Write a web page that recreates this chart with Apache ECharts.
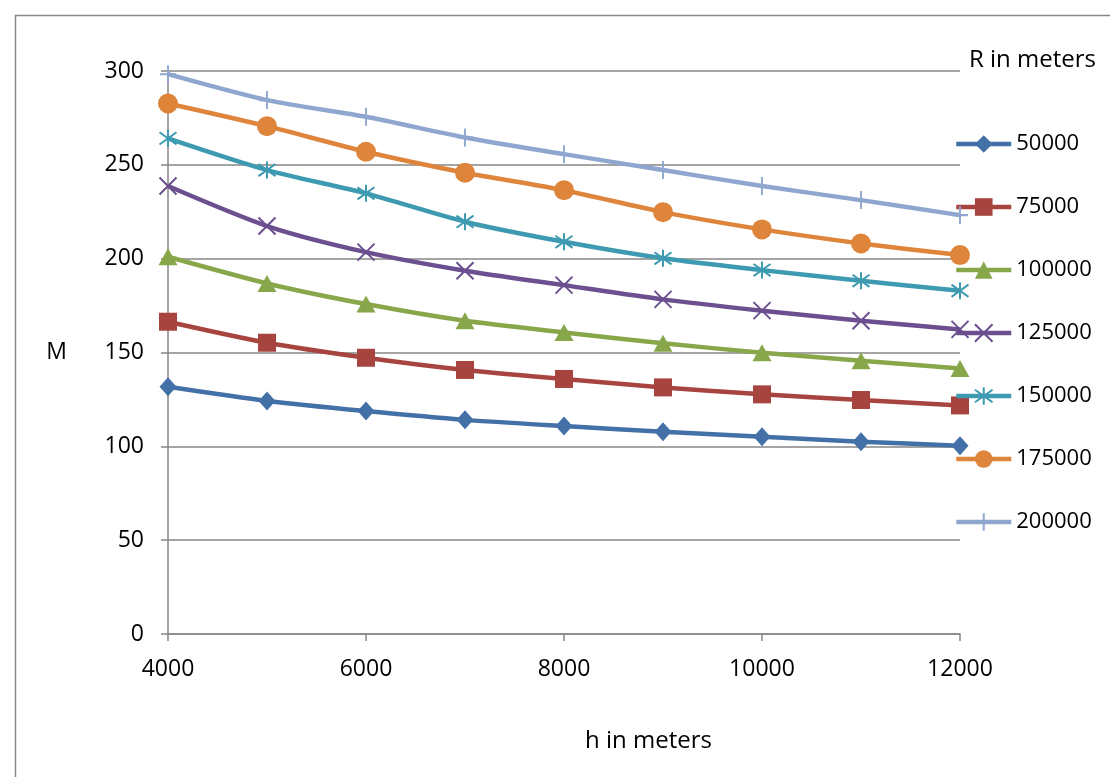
<!DOCTYPE html>
<html>
<head>
<meta charset="utf-8">
<script src="https://cdn.jsdelivr.net/npm/echarts@6/dist/echarts.min.js"></script>
<style>
html,body{margin:0;padding:0;background:#fff;}
#main{width:1110px;height:777px;}
</style>
</head>
<body>
<div id="main"></div>
<script>
// Data
const hValues = [4000, 5000, 6000, 7000, 8000, 9000, 10000, 11000, 12000];
const seriesNames = ['50000', '75000', '100000', '125000', '150000', '175000', '200000'];
const r50000  = [131.7, 124.2, 118.8, 114.1, 110.8, 107.8, 105.1, 102.5, 100.3];
const r75000  = [166.4, 155.2, 147.2, 140.7, 135.9, 131.4, 127.7, 124.7, 121.8];
const r100000 = [201.0, 186.8, 175.8, 166.9, 160.7, 154.9, 149.9, 145.6, 141.5];
const r125000 = [238.7, 217.4, 203.5, 193.6, 185.9, 178.3, 172.3, 166.9, 162.3];
const r150000 = [264.1, 247.2, 234.8, 219.7, 209.0, 200.2, 193.9, 188.2, 182.9];
const r175000 = [282.7, 270.6, 257.0, 245.8, 236.5, 224.8, 215.6, 208.1, 201.9];
const r200000 = [298.3, 284.5, 275.6, 264.6, 255.7, 247.2, 238.7, 231.2, 223.2];
const xTicks = [4000, 6000, 8000, 10000, 12000];
const yTicks = [0, 50, 100, 150, 200, 250, 300];

const allData = [r50000, r75000, r100000, r125000, r150000, r175000, r200000];
const colors = ['#4470A8', '#A8443F', '#88A64A', '#6B4F8F', '#3E9AB1', '#DE843B', '#8FA7CF'];
const symbols = [
  'diamond',
  'rect',
  'triangle',
  'path://M0,0L10,10M10,0L0,10',
  'path://M0,0L10,10M10,0L0,10M5,-2L5,12',
  'circle',
  'path://M5,0L5,10M0,5L10,5'
];
const sizes = [[17,19], 18, [19,17], 17, 17, 20, [16,18]];
const stroked = [false, false, false, true, true, false, true];

const FONT = 'Open Sans';

const series = seriesNames.map((name, i) => ({
  name: name,
  type: 'line',
  data: hValues.map((h, j) => [h, allData[i][j]]),
  smooth: 0.25,
  symbol: symbols[i],
  symbolSize: sizes[i],
  showAllSymbol: true,
  lineStyle: { color: colors[i], width: 4.5 },
  itemStyle: stroked[i]
    ? { color: colors[i], borderColor: colors[i], borderWidth: 2 }
    : { color: colors[i], borderWidth: 0 },
  emphasis: { disabled: true },
  z: 2 + i
}));

const chart = echarts.init(document.getElementById('main'), null, { renderer: 'canvas' });
chart.setOption({
  animation: false,
  backgroundColor: '#fff',
  textStyle: { fontFamily: FONT },
  grid: { left: 168, right: 150, top: 71, bottom: 143, containLabel: false },
  xAxis: {
    type: 'value',
    min: xTicks[0],
    max: xTicks[xTicks.length - 1],
    interval: 2000,
    axisLine: { lineStyle: { color: '#868686', width: 1.5 } },
    axisTick: { show: true, length: 7, lineStyle: { color: '#868686', width: 1.5 } },
    axisLabel: { color: '#000', fontSize: 23, fontFamily: FONT, margin: 24, formatter: v => String(v) },
    splitLine: { show: false }
  },
  yAxis: {
    type: 'value',
    min: yTicks[0],
    max: yTicks[yTicks.length - 1],
    interval: 50,
    axisLine: { show: true, lineStyle: { color: '#868686', width: 1.5 } },
    axisTick: { show: true, length: 7, lineStyle: { color: '#868686', width: 1.5 } },
    axisLabel: { color: '#000', fontSize: 23, fontFamily: FONT, margin: 24, formatter: v => String(v) },
    splitLine: { show: true, lineStyle: { color: '#868686', width: 1.5 } },
    name: 'M',
    nameLocation: 'middle',
    nameRotate: 0,
    nameGap: 101,
    nameTextStyle: { color: '#000', fontSize: 23, fontFamily: FONT }
  },
  legend: {
    orient: 'vertical',
    left: 949,
    top: 128,
    itemWidth: 55,
    itemHeight: 22,
    itemGap: 41,
    data: seriesNames,
    lineStyle: { width: 4.5 },
    textStyle: { color: '#000', fontSize: 22, fontFamily: FONT },
    selectedMode: false
  },
  graphic: [
    { type: 'rect', left: 13, top: 13, shape: { width: 1200, height: 900 }, style: { fill: 'none', stroke: '#868686', lineWidth: 1.5 }, silent: true, z: -1 },
    { type: 'text', left: 969, top: 48, style: { text: 'R in meters', font: '24px "Open Sans"', fill: '#000' } },
    { type: 'text', left: 585, top: 729, style: { text: 'h in meters', font: '24px "Open Sans"', fill: '#000' } }
  ],
  series: series
});
</script>
</body>
</html>
